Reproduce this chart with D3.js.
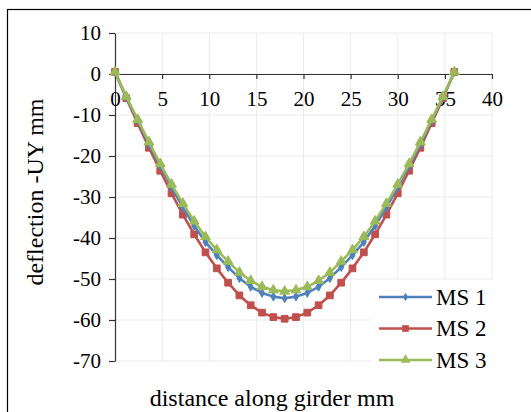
<!DOCTYPE html>
<html><head><meta charset="utf-8">
<script src="https://cdn.jsdelivr.net/npm/d3@7"></script>
<style>body{margin:0;background:#fff}svg{display:block}</style>
</head><body>
<svg id="c" width="531" height="412"></svg>
<script>
const xValues = [0,1.2,2.4,3.6,4.8,6,7.2,8.4,9.6,10.8,12,13.2,14.4,15.6,16.8,18,19.2,20.4,21.6,22.8,24,25.2,26.4,27.6,28.8,30,31.2,32.4,33.6,34.8,36];
const ms1 = [0.5,-5.6,-11.4,-17.1,-22.4,-27.6,-32.5,-37.0,-41.0,-44.2,-47.1,-49.8,-51.9,-53.4,-54.3,-54.7,-54.3,-53.4,-51.9,-49.8,-47.1,-44.2,-41.0,-37.0,-32.5,-27.6,-22.4,-17.1,-11.4,-5.6,0.5];
const ms2 = [0.5,-5.9,-12.0,-18.0,-23.6,-29.1,-34.3,-39.1,-43.5,-47.4,-50.9,-54.0,-56.4,-58.2,-59.3,-59.7,-59.3,-58.2,-56.4,-54.0,-50.9,-47.4,-43.5,-39.1,-34.3,-29.1,-23.6,-18.0,-12.0,-5.9,0.5];
const ms3 = [0.5,-5.5,-11.1,-16.6,-21.9,-26.9,-31.6,-35.9,-39.7,-42.9,-45.7,-48.4,-50.4,-51.9,-52.7,-53.0,-52.7,-51.9,-50.4,-48.4,-45.7,-42.9,-39.7,-35.9,-31.6,-26.9,-21.9,-16.6,-11.1,-5.5,0.5];
const seriesNames = ["MS 1","MS 2","MS 3"];
const xTicks = [0,5,10,15,20,25,30,35,40];
const yTicks = [10,0,-10,-20,-30,-40,-50,-60,-70];

const colors = ["#4F81BD","#C0504D","#9BBB59"];
const FONT = "Liberation Serif";
const svg = d3.select("#c");

svg.append("rect").attr("x",7.5).attr("y",9.5).attr("width",540).attr("height",420)
  .attr("fill","#fff").attr("stroke","#000").attr("stroke-width",1.2);

const x = d3.scaleLinear().domain([0,40]).range([115,492]);
const y = d3.scaleLinear().domain([10,-70]).range([33,361]);

// gridlines
const g = svg.append("g");
g.selectAll(".vg").data(xTicks.slice(1)).enter().append("line")
  .attr("x1",d=>x(d)).attr("x2",d=>x(d)).attr("y1",y(10)).attr("y2",y(-70))
  .attr("stroke","#ebebeb").attr("stroke-width",1);
g.selectAll(".hg").data(yTicks).enter().append("line")
  .attr("x1",x(0)).attr("x2",x(40)).attr("y1",d=>y(d)).attr("y2",d=>y(d))
  .attr("stroke","#ebebeb").attr("stroke-width",1);

const fmt = d => String(d);

// y axis
const yAxis = d3.axisLeft(y).tickValues(yTicks).tickFormat(fmt).tickSize(6).tickSizeOuter(0).tickPadding(8);
const ya = svg.append("g").attr("transform",`translate(${x(0)},0)`).call(yAxis);
ya.attr("font-family",FONT).attr("font-size",21);
ya.select(".domain").attr("stroke","#333").attr("stroke-width",1.2);
ya.selectAll(".tick line").attr("stroke","#333").attr("stroke-width",1.2);
ya.selectAll("text").attr("fill","#000");

// x axis at y=0
const xAxis = d3.axisBottom(x).tickValues(xTicks).tickFormat(fmt).tickSize(5).tickSizeOuter(0).tickPadding(12);
const xa = svg.append("g").attr("transform",`translate(0,${y(0)})`).call(xAxis);
xa.attr("font-family",FONT).attr("font-size",21);
xa.select(".domain").attr("stroke","#333").attr("stroke-width",1.2);
xa.selectAll(".tick line").attr("stroke","#333").attr("stroke-width",1.2);
xa.selectAll("text").attr("fill","#000");

// series
const all = [ms1,ms2,ms3];
const line = d3.line().x((d,i)=>x(xValues[i])).y(d=>y(d));
const shapes = [d3.symbolDiamond, d3.symbolSquare, d3.symbolTriangle];
const sizes = [22, 45, 42];
const drawOrder = [1,0,2];
drawOrder.forEach(si=>{
  const data = all[si];
  svg.append("path").datum(data).attr("d",line).attr("fill","none")
    .attr("stroke",colors[si]).attr("stroke-width",2.6).attr("stroke-linejoin","round");
  svg.append("g").selectAll("path").data(data).enter().append("path")
    .attr("transform",(d,i)=>`translate(${x(xValues[i])},${y(d)})`)
    .attr("d",d3.symbol().type(shapes[si]).size(sizes[si]))
    .attr("fill",colors[si]).attr("stroke",colors[si]).attr("stroke-width",1);
});

// legend
const lg = svg.append("g");
lg.append("rect").attr("x",371).attr("y",280).attr("width",130).attr("height",102).attr("fill","#fff");
seriesNames.forEach((n,i)=>{
  const ly = 297 + i*31.5;
  lg.append("line").attr("x1",379).attr("x2",432).attr("y1",ly).attr("y2",ly)
    .attr("stroke",colors[i]).attr("stroke-width",2.6);
  lg.append("path").attr("transform",`translate(405.5,${ly})`)
    .attr("d",d3.symbol().type(shapes[i]).size(sizes[i])).attr("fill",colors[i]);
  lg.append("text").attr("x",436).attr("y",ly+7.5).text(n)
    .attr("font-family",FONT).attr("font-size",23).attr("fill","#000");
});

// axis titles
svg.append("text").attr("transform","translate(43,192) rotate(-90)").attr("text-anchor","middle")
  .attr("font-family",FONT).attr("font-size",24).attr("fill","#000").text("deflection -UY mm");
svg.append("text").attr("x",272).attr("y",406).attr("text-anchor","middle")
  .attr("font-family",FONT).attr("font-size",24).attr("fill","#000").text("distance along girder mm");
</script>
</body></html>
